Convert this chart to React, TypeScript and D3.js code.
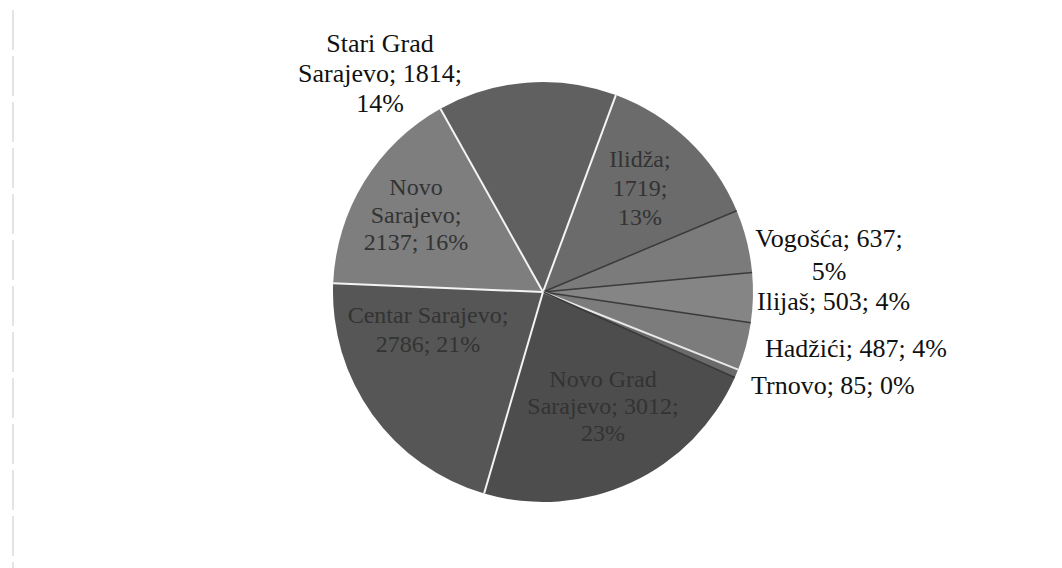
import React from "react";
import * as d3 from "d3";

// ---- data ----
const categories = [
  "Ilidža",
  "Vogošća",
  "Ilijaš",
  "Hadžići",
  "Trnovo",
  "Novo Grad Sarajevo",
  "Centar Sarajevo",
  "Novo Sarajevo",
  "Stari Grad Sarajevo",
];
const values = [1719, 637, 503, 487, 85, 3012, 2786, 2137, 1814];
const percentLabels = ["13%", "5%", "4%", "4%", "0%", "23%", "21%", "16%", "14%"];

// ---- styles / layout ----
const W = 1062;
const H = 568;
const CX = 543;
const CY = 292;
const R = 210;
const START_DEG = 20.3;
const sliceFills = ["#6b6b6b", "#7b7b7b", "#858585", "#7c7c7c", "#6a6a6a", "#4d4d4d", "#565656", "#7e7e7e", "#606060"];
const edgeColors = ["#f4f4f4", "#3a3a3a", "#3a3a3a", "#3a3a3a", "#e8e8e8", "#3a3a3a", "#f4f4f4", "#f4f4f4", "#f4f4f4"];

// label layouts: lines of text and anchor positions (baselines)
type LabelLayout = { x: number; y: number; lh: number; anchor: "start" | "middle"; inside: boolean; lines: (v: number, p: string) => string[] };
const labelLayout: LabelLayout[] = [
  { x: 640, y: 167, lh: 29, anchor: "middle", inside: true, lines: (v, p) => ["Ilidža;", `${v};`, p] },
  { x: 829, y: 247, lh: 33, anchor: "middle", inside: false, lines: (v, p) => ["Vogošća; " + v + ";", p] },
  { x: 757, y: 310, lh: 29, anchor: "start", inside: false, lines: (v, p) => [`Ilijaš; ${v}; ${p}`] },
  { x: 765, y: 357, lh: 29, anchor: "start", inside: false, lines: (v, p) => [`Hadžići; ${v}; ${p}`] },
  { x: 751, y: 394, lh: 29, anchor: "start", inside: false, lines: (v, p) => [`Trnovo; ${v}; ${p}`] },
  { x: 603, y: 387, lh: 27, anchor: "middle", inside: true, lines: (v, p) => ["Novo Grad", `Sarajevo; ${v};`, p] },
  { x: 428, y: 323, lh: 29, anchor: "middle", inside: true, lines: (v, p) => ["Centar Sarajevo;", `${v}; ${p}`] },
  { x: 416, y: 195, lh: 27.5, anchor: "middle", inside: true, lines: (v, p) => ["Novo", "Sarajevo;", `${v}; ${p}`] },
  { x: 380, y: 52, lh: 30, anchor: "middle", inside: false, lines: (v, p) => ["Stari Grad", `Sarajevo; ${v};`, p] },
];

export default function App() {
  const start = (START_DEG * Math.PI) / 180;
  const pie = d3
    .pie<number>()
    .sort(null)
    .value((d) => d)
    .startAngle(start)
    .endAngle(start + 2 * Math.PI);
  const arcs = pie(values);
  const arc = d3.arc<d3.PieArcDatum<number>>().innerRadius(0).outerRadius(R);

  return (
    <svg
      width={W}
      height={H}
      style={{ position: "absolute", left: 0, top: 0, background: "#fff" }}
      fontFamily="'Liberation Serif', 'Times New Roman', serif"
    >
      <rect x={0} y={0} width={W} height={H} fill="#fff" />
      <line x1={13} y1={10} x2={13} y2={568} stroke="#c8c8c8" strokeWidth={1} strokeDasharray="40 6" />
      <g transform={`translate(${CX},${CY})`}>
        {arcs.map((a, i) => (
          <path key={categories[i]} d={arc(a) || ""} fill={sliceFills[i]} stroke="none" />
        ))}
        {arcs.map((a, i) => (
          <line
            key={"e" + i}
            x1={0}
            y1={0}
            x2={R * Math.sin(a.startAngle)}
            y2={-R * Math.cos(a.startAngle)}
            stroke={edgeColors[i]}
            strokeWidth={edgeColors[i].startsWith("#3") ? 1.5 : 2}
          />
        ))}
      </g>
      {labelLayout.map((l, i) => (
        <text
          key={"t" + i}
          x={l.x}
          y={l.y}
          textAnchor={l.anchor}
          fontSize={l.inside ? 24 : 26}
          fill={l.inside ? "#333" : "#111"}
        >
          {l.lines(values[i], percentLabels[i]).map((s, j) => (
            <tspan key={j} x={l.x} y={l.y + j * l.lh}>
              {s}
            </tspan>
          ))}
        </text>
      ))}
    </svg>
  );
}
